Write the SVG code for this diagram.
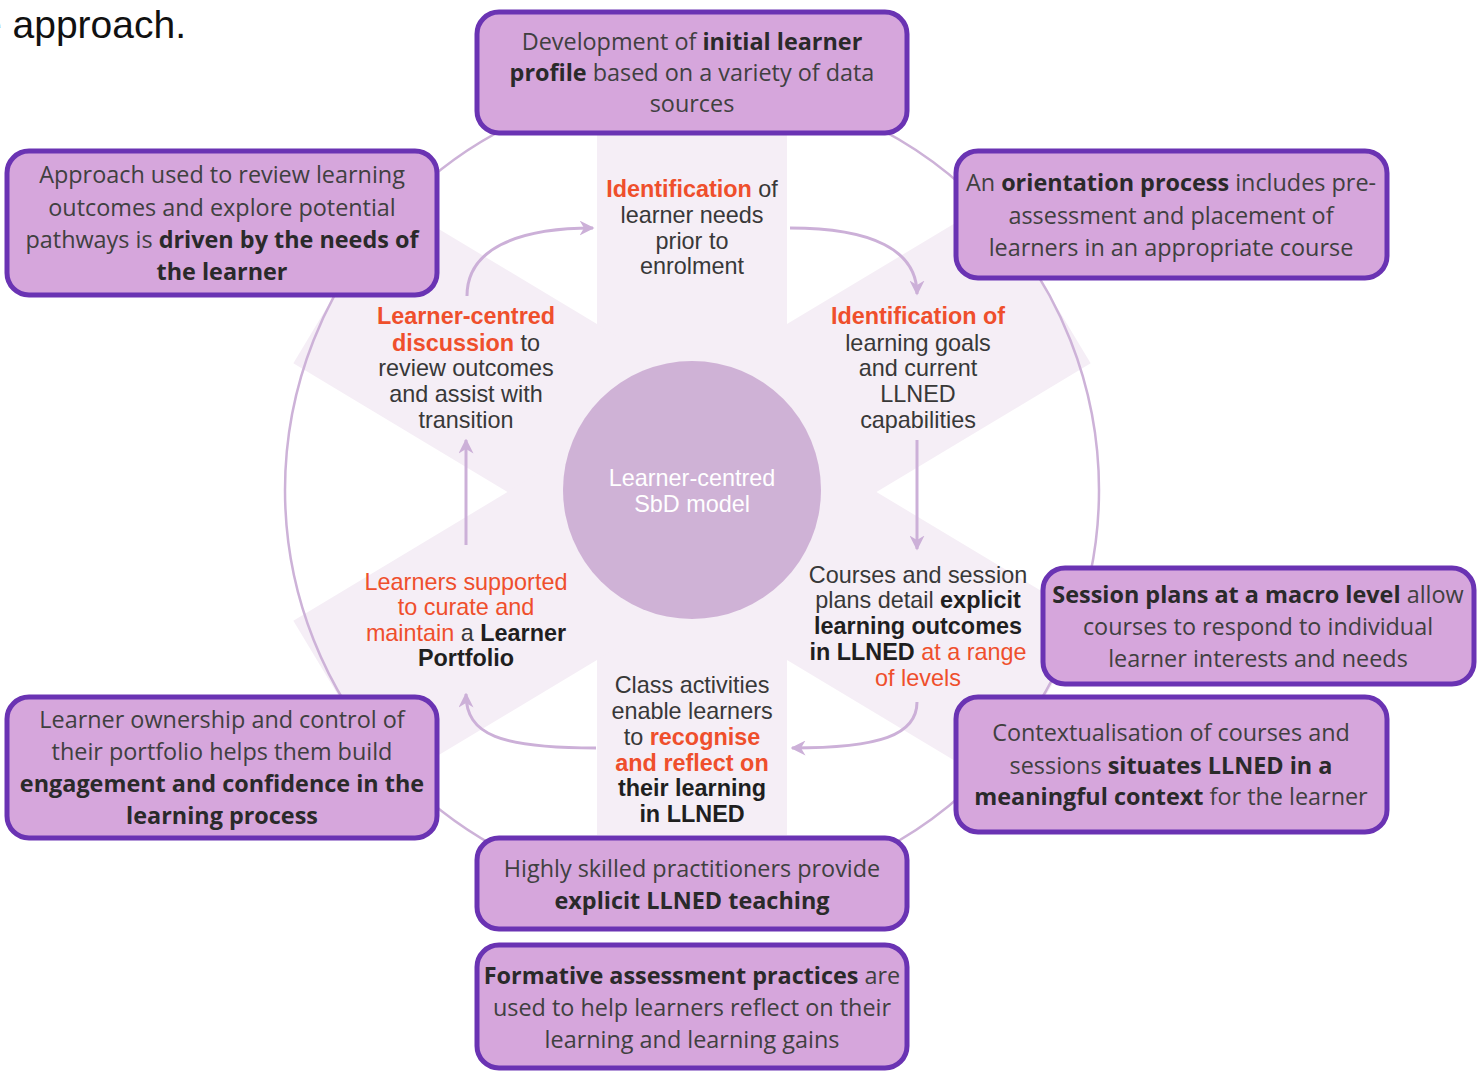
<svg xmlns="http://www.w3.org/2000/svg" width="1480" height="1074" viewBox="0 0 1480 1074">
  <defs>
    <style>
      .bg { fill: #f5eef6; }
      .ring { fill: none; stroke: #cdb2d8; stroke-width: 2.5; }
      .hub { fill: #cfb2d6; }
      .hubtxt { font-family: "Liberation Sans", Arial, sans-serif; font-size: 23.4px; fill: #ffffff; text-anchor: middle; }
      .box { fill: #d6a6dc; stroke: #6a33b3; stroke-width: 5; }
      .bt { font-family: "Open Sans", "Liberation Sans", sans-serif; font-size: 23.4px; fill: #404040; text-anchor: middle; }
      .bt .b { font-weight: bold; fill: #2a2a2a; }
      .st { font-family: "Liberation Sans", Arial, sans-serif; font-size: 23.4px; fill: #383838; text-anchor: middle; }
      .st .r { fill: #ef4f2c; }
      .st .b { font-weight: bold; fill: #1f1f1f; }
      .st .rb { font-weight: bold; fill: #ef4f2c; }
      .conn { fill: none; stroke: #ccb0d8; stroke-width: 3; }
      .head { font-family: "Liberation Sans", Arial, sans-serif; font-size: 39px; fill: #111111; text-anchor: end; }
    </style>
    <marker id="arr" viewBox="0 0 10 10" refX="9" refY="5" markerWidth="5" markerHeight="5" orient="auto" markerUnits="strokeWidth">
      <path d="M0,0 L10,5 L0,10 L3,5 Z" fill="#ccb0d8"/>
    </marker>
  </defs>

  <rect width="1480" height="1074" fill="#ffffff"/>

  <!-- heading fragment at the top-left -->
  <text class="head" x="186" y="38">e approach.</text>

  <!-- six-armed background star -->
  <g id="star">
    <rect class="bg" x="597" y="135" width="190" height="700"/>
    <rect class="bg" x="-408" y="-95" width="816" height="190" transform="translate(692,492) rotate(31)"/>
    <rect class="bg" x="-408" y="-95" width="816" height="190" transform="translate(692,492) rotate(-31)"/>
  </g>

  <!-- outer ring -->
  <circle class="ring" cx="692" cy="490" r="407"/>

  <!-- hub -->
  <g id="hub">
    <circle class="hub" cx="692" cy="490" r="129"/>
    <text class="hubtxt" x="692" y="486">Learner-centred</text>
    <text class="hubtxt" x="692" y="512">SbD model</text>
  </g>

  <!-- cycle arrows between stages -->
  <g id="connectors">
    <path class="conn" d="M467,296 C467,250 515,228 593,228" marker-end="url(#arr)"/>
    <path class="conn" d="M790,228 C872,228 917,250 917,294" marker-end="url(#arr)"/>
    <path class="conn" d="M917,440 L917,549" marker-end="url(#arr)"/>
    <path class="conn" d="M917,702 C917,735 880,748 792,748" marker-end="url(#arr)"/>
    <path class="conn" d="M596,748 C500,748 466,735 466,694" marker-end="url(#arr)"/>
    <path class="conn" d="M466,545 L466,440" marker-end="url(#arr)"/>
  </g>

  <!-- stage labels -->
  <g id="stage-top">
    <text class="st" x="692" y="197"><tspan class="rb">Identification</tspan> of</text>
    <text class="st" x="692" y="223">learner needs</text>
    <text class="st" x="692" y="249">prior to</text>
    <text class="st" x="692" y="274">enrolment</text>
  </g>
  <g id="stage-upper-right">
    <text class="st" x="918" y="324"><tspan class="rb">Identification of</tspan></text>
    <text class="st" x="918" y="351">learning goals</text>
    <text class="st" x="918" y="376">and current</text>
    <text class="st" x="918" y="402">LLNED</text>
    <text class="st" x="918" y="428">capabilities</text>
  </g>
  <g id="stage-lower-right">
    <text class="st" x="918" y="583">Courses and session</text>
    <text class="st" x="918" y="608">plans detail <tspan class="b">explicit</tspan></text>
    <text class="st" x="918" y="634"><tspan class="b">learning outcomes</tspan></text>
    <text class="st" x="918" y="660"><tspan class="b">in LLNED</tspan> <tspan class="r">at a range</tspan></text>
    <text class="st" x="918" y="686"><tspan class="r">of levels</tspan></text>
  </g>
  <g id="stage-bottom">
    <text class="st" x="692" y="693">Class activities</text>
    <text class="st" x="692" y="719">enable learners</text>
    <text class="st" x="692" y="745">to <tspan class="rb">recognise</tspan></text>
    <text class="st" x="692" y="771"><tspan class="rb">and reflect on</tspan></text>
    <text class="st" x="692" y="796"><tspan class="b">their learning</tspan></text>
    <text class="st" x="692" y="822"><tspan class="b">in LLNED</tspan></text>
  </g>
  <g id="stage-lower-left">
    <text class="st" x="466" y="590"><tspan class="r">Learners supported</tspan></text>
    <text class="st" x="466" y="615"><tspan class="r">to curate and</tspan></text>
    <text class="st" x="466" y="641"><tspan class="r">maintain</tspan> a <tspan class="b">Learner</tspan></text>
    <text class="st" x="466" y="666"><tspan class="b">Portfolio</tspan></text>
  </g>
  <g id="stage-upper-left">
    <text class="st" x="466" y="324"><tspan class="rb">Learner-centred</tspan></text>
    <text class="st" x="466" y="351"><tspan class="rb">discussion</tspan> to</text>
    <text class="st" x="466" y="376">review outcomes</text>
    <text class="st" x="466" y="402">and assist with</text>
    <text class="st" x="466" y="428">transition</text>
  </g>

  <!-- outer boxes -->
  <g id="box-profile">
    <rect class="box" x="477" y="12" width="430" height="121" rx="22"/>
    <text class="bt" x="692" y="50">Development of <tspan class="b">initial learner</tspan></text>
    <text class="bt" x="692" y="81"><tspan class="b">profile</tspan> based on a variety of data</text>
    <text class="bt" x="692" y="112">sources</text>
  </g>
  <g id="box-review">
    <rect class="box" x="7" y="151" width="430" height="144" rx="22"/>
    <text class="bt" x="222" y="183">Approach used to review learning</text>
    <text class="bt" x="222" y="216">outcomes and explore potential</text>
    <text class="bt" x="222" y="248">pathways is <tspan class="b">driven by the needs of</tspan></text>
    <text class="bt" x="222" y="280"><tspan class="b">the learner</tspan></text>
  </g>
  <g id="box-orientation">
    <rect class="box" x="956" y="151" width="431" height="127" rx="22"/>
    <text class="bt" x="1171" y="191">An <tspan class="b">orientation process</tspan> includes pre-</text>
    <text class="bt" x="1171" y="224">assessment and placement of</text>
    <text class="bt" x="1171" y="256">learners in an appropriate course</text>
  </g>
  <g id="box-session-plans">
    <rect class="box" x="1043" y="568" width="431" height="116" rx="22"/>
    <text class="bt" x="1258" y="603"><tspan class="b">Session plans at a macro level</tspan> allow</text>
    <text class="bt" x="1258" y="635">courses to respond to individual</text>
    <text class="bt" x="1258" y="667">learner interests and needs</text>
  </g>
  <g id="box-context">
    <rect class="box" x="956" y="697" width="431" height="135" rx="22"/>
    <text class="bt" x="1171" y="741">Contextualisation of courses and</text>
    <text class="bt" x="1171" y="774">sessions <tspan class="b">situates LLNED in a</tspan></text>
    <text class="bt" x="1171" y="805"><tspan class="b">meaningful context</tspan> for the learner</text>
  </g>
  <g id="box-ownership">
    <rect class="box" x="7" y="697" width="430" height="141" rx="22"/>
    <text class="bt" x="222" y="728">Learner ownership and control of</text>
    <text class="bt" x="222" y="760">their portfolio helps them build</text>
    <text class="bt" x="222" y="792"><tspan class="b">engagement and confidence in the</tspan></text>
    <text class="bt" x="222" y="824"><tspan class="b">learning process</tspan></text>
  </g>
  <g id="box-teaching">
    <rect class="box" x="477" y="838" width="430" height="91" rx="22"/>
    <text class="bt" x="692" y="877">Highly skilled practitioners provide</text>
    <text class="bt" x="692" y="909"><tspan class="b">explicit LLNED teaching</tspan></text>
  </g>
  <g id="box-formative">
    <rect class="box" x="477" y="945" width="430" height="123" rx="22"/>
    <text class="bt" x="692" y="984"><tspan class="b">Formative assessment practices</tspan> are</text>
    <text class="bt" x="692" y="1016">used to help learners reflect on their</text>
    <text class="bt" x="692" y="1048">learning and learning gains</text>
  </g>
</svg>
